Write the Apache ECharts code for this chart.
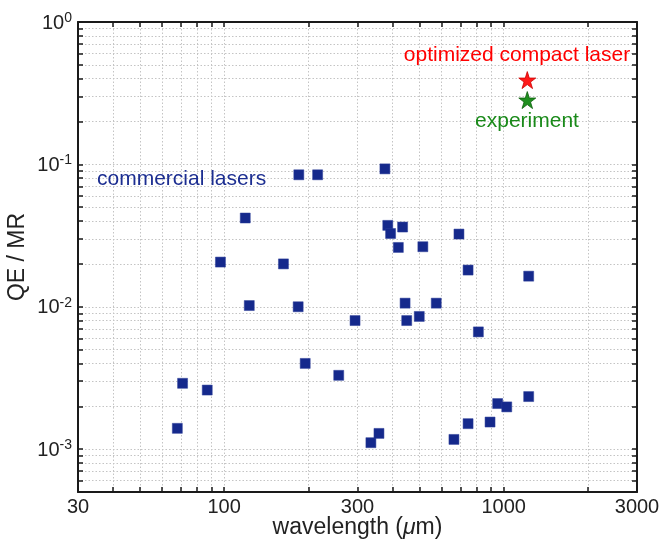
<!DOCTYPE html>
<html>
<head>
<meta charset="utf-8">
<script src="https://cdn.jsdelivr.net/npm/echarts@6/dist/echarts.min.js"></script>
<style>
html,body{margin:0;padding:0;background:#fff;}
#chart{width:662px;height:540px;}
</style>
</head>
<body>
<div id="chart"></div>
<script>
// ---- data ----
var wavelengths = [68, 71, 87, 97, 119, 123, 163, 185, 184, 195, 216, 257, 294, 335, 358, 376, 385, 394, 420, 435, 444, 450, 499, 514, 574, 664, 692, 746, 746, 812, 894, 952, 1026, 1229, 1229];
var qeOverMR = [0.0014, 0.0029, 0.0026, 0.0206, 0.042, 0.0102, 0.020, 0.0845, 0.0100, 0.0040, 0.0845, 0.0033, 0.0080, 0.00111, 0.00129, 0.093, 0.0373, 0.0327, 0.0261, 0.0363, 0.0106, 0.0080, 0.00855, 0.0264, 0.0106, 0.00117, 0.0324, 0.00151, 0.0181, 0.00666, 0.00155, 0.00209, 0.00198, 0.00234, 0.0164];
var optimizedPoint = [1215, 0.391];
var experimentPoint = [1215, 0.283];

var xRange = [30, 3000];
var yRange = [5e-4, 1];
var xTickValues = [30, 40, 50, 60, 70, 80, 90, 100, 200, 300, 400, 500, 600, 700, 800, 900, 1000, 2000, 3000];
var xLabelValues = [30, 100, 300, 1000, 3000];
var yTickValues = [5e-4, 6e-4, 7e-4, 8e-4, 9e-4, 1e-3, 2e-3, 3e-3, 4e-3, 5e-3, 6e-3, 7e-3, 8e-3, 9e-3, 1e-2, 2e-2, 3e-2, 4e-2, 5e-2, 6e-2, 7e-2, 8e-2, 9e-2, 0.1, 0.2, 0.3, 0.4, 0.5, 0.6, 0.7, 0.8, 0.9, 1];
var yLabelValues = [1e-3, 1e-2, 1e-1, 1];

var annotations = {
  commercial: 'commercial lasers',
  optimized: 'optimized compact laser',
  experiment: 'experiment'
};

// ---- chart ----
var L = Math.log10;
var FONT = '"Liberation Sans", Arial, Helvetica, sans-serif';
var AXC = '#1a1a1a';
var STAR = 'path://M50,2 L61.2,36.2 L97.6,36.2 L68.2,57.4 L79.4,91.6 L50,70.4 L20.6,91.6 L31.8,57.4 L2.4,36.2 L38.8,36.2 Z';

var chart = echarts.init(document.getElementById('chart'), null, {renderer: 'canvas'});

var gridLine = {show: true, lineStyle: {color: '#c4c4c4', width: 1, type: [1.5, 2]}};

function xAxisDef(pos, labels) {
  return {
    type: 'value', position: pos, gridIndex: 0,
    min: L(xRange[0]), max: L(xRange[1]),
    axisLine: {show: true, onZero: false, lineStyle: {color: AXC, width: 2}},
    axisTick: {show: true, inside: true, length: 5, lineStyle: {color: AXC, width: 1.5},
               customValues: xTickValues.map(L)},
    axisLabel: labels ? {
      show: true, customValues: xLabelValues.map(L), margin: 5,
      fontFamily: FONT, fontSize: 20, color: '#222',
      formatter: function (v) { return String(Math.round(Math.pow(10, v))); }
    } : {show: false},
    splitLine: labels ? gridLine : {show: false},
    name: labels ? 'wavelength ({i|μ}m)' : '',
    nameLocation: 'middle', nameGap: 24, nameMoveOverlap: false,
    nameTextStyle: {fontFamily: FONT, fontSize: 23, color: '#222',
      rich: {i: {fontFamily: FONT, fontSize: 23, fontStyle: 'italic', color: '#222'}}}
  };
}
function yAxisDef(pos, labels) {
  return {
    type: 'value', position: pos, gridIndex: 0,
    min: L(yRange[0]), max: L(yRange[1]),
    axisLine: {show: true, onZero: false, lineStyle: {color: AXC, width: 2}},
    axisTick: {show: true, inside: true, length: 5, lineStyle: {color: AXC, width: 1.5},
               customValues: yTickValues.map(L)},
    axisLabel: labels ? {
      show: true, customValues: yLabelValues.map(L), margin: 6,
      formatter: function (v) { return '{b|10}{s|' + Math.round(v) + '}'; },
      rich: {
        b: {fontFamily: FONT, fontSize: 20, color: '#222', lineHeight: 22, verticalAlign: 'bottom'},
        s: {fontFamily: FONT, fontSize: 14, color: '#222', lineHeight: 14, verticalAlign: 'top'}
      }
    } : {show: false},
    splitLine: labels ? gridLine : {show: false},
    name: labels ? 'QE / MR' : '',
    nameLocation: 'middle', nameGap: 49, nameRotate: 90, nameMoveOverlap: false,
    nameTextStyle: {fontFamily: FONT, fontSize: 23, color: '#222'}
  };
}

var option = {
  backgroundColor: '#fff',
  animation: false,
  grid: {left: 78, right: 25, top: 22, bottom: 48, containLabel: false, outerBoundsMode: 'none'},
  xAxis: [xAxisDef('bottom', true), xAxisDef('top', false)],
  yAxis: [yAxisDef('left', true), yAxisDef('right', false)],
  series: [
    {
      type: 'scatter', xAxisIndex: 0, yAxisIndex: 0, z: 3,
      symbol: 'rect', symbolSize: 10,
      itemStyle: {color: '#15298c', opacity: 1, borderColor: '#2c3e98', borderWidth: 0.5},
      data: wavelengths.map(function (w, i) { return [L(w), L(qeOverMR[i])]; })
    },
    {
      type: 'scatter', xAxisIndex: 0, yAxisIndex: 0, z: 4,
      symbol: STAR, symbolSize: 17,
      itemStyle: {color: '#ff1a1a', opacity: 1, borderColor: '#cc0000', borderWidth: 0.8},
      data: [[L(optimizedPoint[0]), L(optimizedPoint[1])]]
    },
    {
      type: 'scatter', xAxisIndex: 0, yAxisIndex: 0, z: 4,
      symbol: STAR, symbolSize: 17,
      itemStyle: {color: '#1f8f1f', opacity: 1, borderColor: '#0d5f0d', borderWidth: 0.8},
      data: [[L(experimentPoint[0]), L(experimentPoint[1])]]
    }
  ],
  graphic: [
    {type: 'text', z: 10, style: {x: 97, y: 179, text: annotations.commercial, fill: '#1c2e91',
      font: '21px ' + FONT, align: 'left', verticalAlign: 'middle'}},
    {type: 'text', z: 10, style: {x: 517, y: 55, text: annotations.optimized, fill: '#ff0000',
      font: '21px ' + FONT, align: 'center', verticalAlign: 'middle'}},
    {type: 'text', z: 10, style: {x: 527, y: 121, text: annotations.experiment, fill: '#1a8a1a',
      font: '21px ' + FONT, align: 'center', verticalAlign: 'middle'}}
  ]
};
chart.setOption(option);
</script>
</body>
</html>
